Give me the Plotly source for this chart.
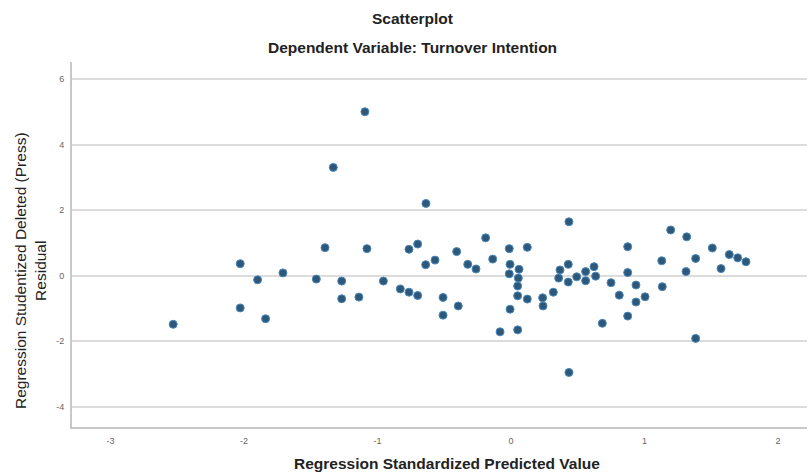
import plotly.graph_objects as go

pred = [-2.53, -2.028, -2.028, -1.898, -1.838, -1.708, -1.458, -1.393, -1.331, -1.268,
        -1.268, -1.139, -1.094, -1.079, -0.956, -0.829, -0.764, -0.764, -0.699, -0.699,
        -0.637, -0.639, -0.569, -0.509, -0.509, -0.407, -0.395, -0.324, -0.262, -0.190,
        -0.137, -0.082, -0.013, -0.007, -0.013, -0.007, 0.060, 0.055, 0.050, 0.050,
        0.050, 0.122, 0.122, 0.237, 0.240, 0.317, 0.367, 0.357, 0.429, 0.429,
        0.434, 0.434, 0.492, 0.559, 0.559, 0.622, 0.634, 0.684, 0.749, 0.811,
        0.874, 0.874, 0.874, 0.936, 0.936, 1.004, 1.129, 1.133, 1.196, 1.316,
        1.311, 1.383, 1.383, 1.508, 1.573, 1.635, 1.698, 1.760]
resid = [-1.49, 0.36, -0.99, -0.13, -1.32, 0.08, -0.11, 0.85, 3.30, -0.17,
         -0.71, -0.66, 5.00, 0.82, -0.17, -0.41, 0.80, -0.51, 0.96, -0.61,
         2.20, 0.33, 0.47, -0.67, -1.21, 0.73, -0.93, 0.34, 0.20, 1.15,
         0.50, -1.72, 0.82, 0.34, 0.05, -1.03, 0.19, -0.08, -0.32, -0.62,
         -1.66, 0.86, -0.72, -0.68, -0.93, -0.51, 0.17, -0.08, 0.34, -0.20,
         1.64, -2.96, -0.04, 0.12, -0.16, 0.27, -0.02, -1.46, -0.22, -0.60,
         0.88, 0.09, -1.24, -0.29, -0.81, -0.65, 0.45, -0.34, 1.39, 1.18,
         0.12, 0.52, -1.92, 0.84, 0.21, 0.64, 0.54, 0.42]

x_ticks = [-3, -2, -1, 0, 1, 2]
y_ticks = [-4, -2, 0, 2, 4, 6]

fig = go.Figure()
fig.add_trace(go.Scatter(
    x=pred, y=resid, mode="markers",
    marker=dict(size=8, color="#2e5879", line=dict(color="#4b88bb", width=1)),
    showlegend=False, hoverinfo="x+y"))

W, H = 809, 473
L, R, T, B = 72, 2, 62, 46
fig.update_layout(
    width=W, height=H,
    margin=dict(l=L, r=R, t=T, b=B),
    paper_bgcolor="white", plot_bgcolor="white",
    font=dict(family="Liberation Sans, Arial, sans-serif", color="#222"),
    xaxis=dict(range=[-3.288, 2.217], tickvals=x_ticks, ticktext=[str(v) for v in x_ticks],
               showgrid=False, zeroline=False, showline=True, linecolor="#c8c8c8", linewidth=2,
               tickfont=dict(size=9, color="#666"), ticks="", ticklabelstandoff=4),
    yaxis=dict(range=[-4.626, 6.519], tickvals=y_ticks, ticktext=[str(v) for v in y_ticks],
               showgrid=True, gridcolor="#dcdcdc", gridwidth=2, zeroline=False,
               showline=True, linecolor="#c8c8c8", linewidth=2,
               tickfont=dict(size=9, color="#666"), ticks="", ticklabelstandoff=4),
)

PW, PH = W - L - R, H - T - B


def px_x(p):
    return (p - L) / PW


def px_y(p):
    return (H - B - p) / PH


anns = [
    ("<b>Scatterplot</b>", 412, 18),
    ("<b>Dependent Variable: Turnover Intention</b>", 412, 47),
    ("<b>Regression Standardized Predicted Value</b>", 447, 464),
]
for text, xp, yp in anns:
    fig.add_annotation(text=text, x=px_x(xp), y=px_y(yp), xref="paper", yref="paper",
                       xanchor="center", yanchor="middle", showarrow=False,
                       font=dict(size=15.5, color="#222"))

fig.add_annotation(text="Regression Studentized Deleted (Press)<br>Residual",
                   x=px_x(30), y=px_y(271), xref="paper", yref="paper",
                   xanchor="center", yanchor="middle", showarrow=False, textangle=-90,
                   font=dict(size=15.5, color="#222"))

fig.write_html("out.html", config={"displayModeBar": False})

with open("out.html", "r", encoding="utf-8") as f:
    html = f.read()
html = html.replace("<body>", '<body style="margin:0;padding:0;">', 1)
with open("out.html", "w", encoding="utf-8") as f:
    f.write(html)
